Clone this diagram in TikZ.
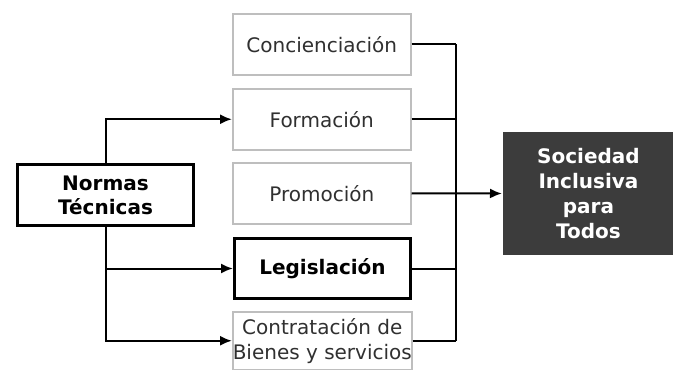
\documentclass[tikz,border=0pt]{standalone}
\usepackage{fontspec}
\setmainfont{DejaVu Sans}
\usetikzlibrary{arrows.meta}
\definecolor{boxline}{HTML}{BEBEBE}
\definecolor{boxtext}{HTML}{303030}
\definecolor{goal}{HTML}{3C3C3C}
\begin{document}
\begin{tikzpicture}[x=1pt,y=-1pt,line width=2pt,
    every node/.style={anchor=north west,inner sep=0pt,align=center,font=\fontsize{20}{25}\selectfont},
    step box/.style={draw=boxline,line width=1.5pt,fill=white,text=boxtext,minimum width=178pt,minimum height=61pt},
    key box/.style={draw=black,line width=3pt,fill=white,text=black,font=\bfseries\fontsize{20}{24}\selectfont},
    link/.style={-{Latex[length=12pt,width=10pt]}}]
    \useasboundingbox (0,0) rectangle (673,370);
    \node[key box,minimum width=176pt,minimum height=61pt] (normas) at (16,163) {Normas\\Técnicas};
    \node[step box] (concien) at (232,13) {Concienciación};
    \node[step box] (formacion) at (232,88) {Formación};
    \node[step box] (promocion) at (232,162) {Promoción};
    \node[key box,minimum width=176pt,minimum height=60pt] (legislacion) at (233,237) {Legislación};
    \node[step box,minimum height=58pt] (contratacion) at (232,311) {Contratación de\\Bienes y servicios};
    \node[fill=goal,text=white,font=\bfseries\fontsize{20}{25}\selectfont,minimum width=171pt,minimum height=123pt] (sociedad) at (502,131) {Sociedad\\Inclusiva\\para\\Todos};
    \coordinate (bus) at (456,43);
    % from the norms to three of the steps
    \draw[link] (normas.north) |- (formacion.west);
    \draw[link] (normas.south) |- (legislacion.west);
    \draw[link] (normas.south) |- (contratacion.west);
    % all steps gathered on one line
    \draw (concien.east) -- (concien.east -| bus);
    \draw (formacion.east) -- (formacion.east -| bus);
    \draw (legislacion.east) -- (legislacion.east -| bus);
    \draw (contratacion.east) -- (contratacion.east -| bus);
    \draw (concien.east -| bus) -- (contratacion.east -| bus);
    \draw[link] (promocion.east) -- (sociedad.west);
\end{tikzpicture}
\end{document}
